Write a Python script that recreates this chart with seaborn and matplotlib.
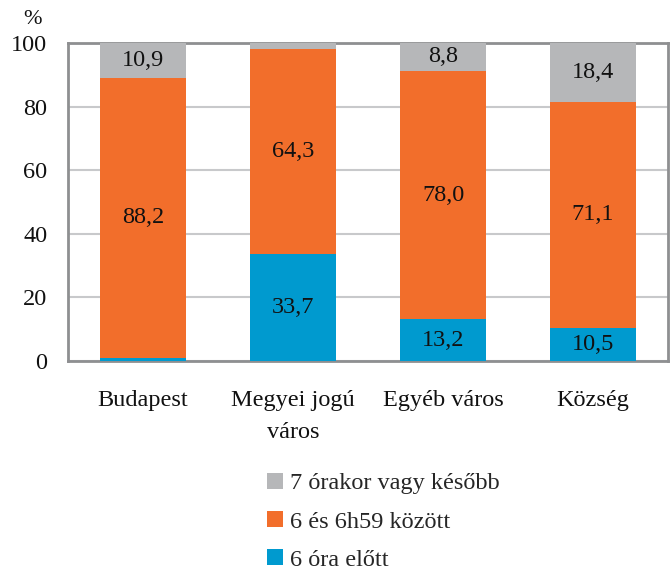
import matplotlib
matplotlib.use("Agg")
import matplotlib.pyplot as plt
import seaborn as sns
import pandas as pd
import numpy as np

# data
categories = ["Budapest", "Megyei jogú\nváros", "Egyéb város", "Község"]
before_6 = [0.9, 33.7, 13.2, 10.5]
between_6_7 = [88.2, 64.3, 78.0, 71.1]
after_7 = [10.9, 2.0, 8.8, 18.4]
series_names = ["6 óra előtt", "6 és 6h59 között", "7 órakor vagy később"]
show_labels = [[False, True, True, True], [True, True, True, True], [True, False, True, True]]

colors = ["#009acf", "#f26e2b", "#b6b7b9"]
fs = 17.5

sns.set_style("white")
plt.rcParams["font.family"] = ["Liberation Serif", "DejaVu Serif"]
plt.rcParams["font.size"] = fs

df = pd.DataFrame({"cat": categories, "s1": before_6, "s2": between_6_7, "s3": after_7})
df["c1"] = df["s1"]
df["c2"] = df["s1"] + df["s2"]
df["c3"] = df["c2"] + df["s3"]

fig = plt.figure(figsize=(6.72, 5.73), dpi=100)
ax = fig.add_axes([68 / 672, 1 - 361 / 573, 600 / 672, 318 / 573])

# draw cumulative totals from the top segment down so they stack
for col, color, name in [("c3", colors[2], series_names[2]),
                         ("c2", colors[1], series_names[1]),
                         ("c1", colors[0], series_names[0])]:
    sns.barplot(data=df, x="cat", y=col, color=color, width=0.567,
                saturation=1, ax=ax, label=name, zorder=3, linewidth=0)

# value labels
vals = [before_6, between_6_7, after_7]
bottoms = [np.zeros(4), np.array(before_6), np.array(before_6) + np.array(between_6_7)]
for k in range(3):
    for i in range(4):
        if show_labels[k][i]:
            ax.text(i, bottoms[k][i] + vals[k][i] / 2, f"{vals[k][i]:.1f}".replace(".", ","),
                    ha="center", va="center", fontsize=fs, color="#111111", zorder=4)

ax.set_ylim(0, 100)
ax.set_xlim(-0.5, 3.5)
ax.set_yticks([0, 20, 40, 60, 80, 100])
ax.set_xlabel("")
ax.set_ylabel("")
ax.yaxis.grid(True, color="#c8c9cb", linewidth=1.5, zorder=0)
ax.set_axisbelow(True)
for s in ax.spines.values():
    s.set_visible(True)
    s.set_color("#8e8f91")
    s.set_linewidth(2)
ax.tick_params(axis="y", length=0, pad=15, labelsize=fs, labelcolor="#111111")
ax.tick_params(axis="x", length=0, pad=21, labelsize=fs, labelcolor="#111111")
for t in ax.get_xticklabels():
    t.set_linespacing(1.65)
    t.set_va("top")

fig.text(33 / 672, 1 - 19 / 573, "%", ha="center", va="center", fontsize=16, color="#111111")

handles, labels = ax.get_legend_handles_labels()
ax.legend(handles, labels, loc="upper left",
          bbox_to_anchor=(257 / 672, 1 - 463 / 573), bbox_transform=fig.transFigure,
          frameon=False, fontsize=fs, handlelength=0.65, handleheight=0.65,
          handletextpad=0.3, labelspacing=0.68, borderaxespad=0)

fig.savefig("out.png", dpi=100)
